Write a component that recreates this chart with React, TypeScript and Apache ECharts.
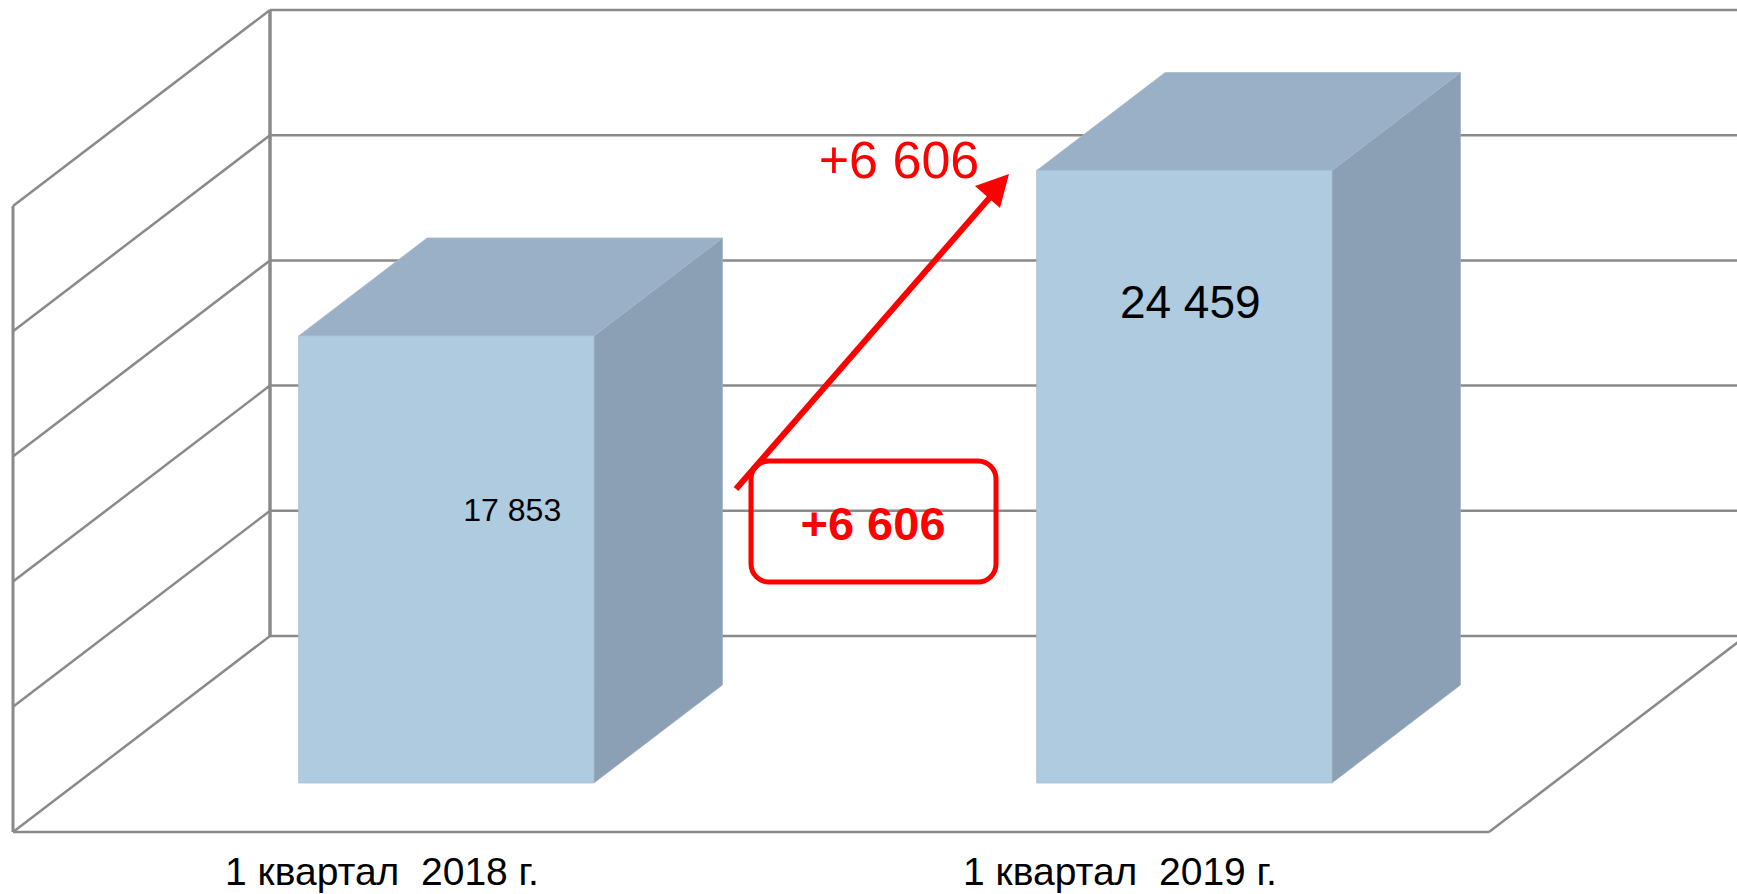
import React, { useEffect, useRef } from "react";
import * as echarts from "echarts";

// ---- data ----
const categories = ["1 квартал  2018 г.", "1 квартал  2019 г."];
const values = [17853, 24459];
const yTicks = [0, 5000, 10000, 15000, 20000, 25000];
const Y_MIN = 0;
const Y_MAX = 25000;
const Y_INTERVAL = 5000;

const fmt = (n: number) => String(Math.abs(n)).replace(/\B(?=(\d{3})+(?!\d))/g, " ");
const diff = values[1] - values[0];
const diffLabel = (diff >= 0 ? "+" : "-") + fmt(diff);

// ---- 3D projection / styling ----
const DEPTH = [257, -196]; // full floor depth vector (front -> back wall)
const BAR_FRONT = 0.25;
const BAR_BACK = 0.75;
const BAR_WIDTH_RATIO = 0.4;
const GRID_COLOR = "#8a8a8a";
const FONT = "'Liberation Sans', Arial, sans-serif";
const FRONT_COLOR = "#afcbe0";
const TOP_COLOR = "#9ab0c6";
const SIDE_COLOR = "#8ba0b4";
// label placement relative to bar front face: x offset from centre, y fraction from top, font size
const LABEL_LAYOUT = [
  { dx: 66, fy: 0.39, size: 32 },
  { dx: 6, fy: 0.215, size: 46 },
];

export default function App() {
  const ref = useRef<HTMLDivElement>(null);
  useEffect(() => {
    if (!ref.current) return;
    const chart = echarts.init(ref.current, null, { renderer: "svg" });
    const option: any = {
      animation: false,
      backgroundColor: "#ffffff",
      grid: { left: 13, top: 206, width: 1476, height: 626, containLabel: false },
      xAxis: {
        type: "category",
        data: categories,
        axisLine: { show: false },
        axisTick: { show: false },
        splitLine: { show: false },
        axisLabel: { fontSize: 39, color: "#000", fontFamily: FONT, margin: 20 },
      },
      yAxis: {
        type: "value",
        min: Y_MIN,
        max: Y_MAX,
        interval: Y_INTERVAL,
        show: false,
        splitLine: { show: false },
      },
      series: [
        {
          type: "custom",
          name: "walls",
          z: 1,
          silent: true,
          data: yTicks.map((v) => [0, v]),
          renderItem: (params: any, api: any) => {
            const v = api.value(1);
            const cs = params.coordSys;
            const y = api.coord([0, v])[1];
            const x0 = cs.x;
            const x1 = cs.x + cs.width;
            const [dx, dy] = DEPTH;
            const st = { stroke: GRID_COLOR, lineWidth: 2.5 };
            const children: any[] = [
              { type: "line", shape: { x1: x0, y1: y, x2: x0 + dx, y2: y + dy }, style: st },
              { type: "line", shape: { x1: x0 + dx, y1: y + dy, x2: x1 + dx, y2: y + dy }, style: st },
            ];
            if (v === Y_MIN) {
              children.push(
                { type: "line", shape: { x1: x0, y1: y, x2: x1, y2: y }, style: { stroke: GRID_COLOR, lineWidth: 2.5 } },
                { type: "line", shape: { x1: x1, y1: y, x2: x1 + dx, y2: y + dy }, style: st },
                { type: "line", shape: { x1: x0, y1: y, x2: x0, y2: cs.y }, style: { stroke: GRID_COLOR, lineWidth: 3 } },
                { type: "line", shape: { x1: x0 + dx, y1: y + dy, x2: x0 + dx, y2: cs.y + dy }, style: { stroke: GRID_COLOR, lineWidth: 3.5 } }
              );
            }
            return { type: "group", children };
          },
        },
        {
          type: "custom",
          name: "bars",
          z: 2,
          data: values.map((v, i) => [i, v]),
          renderItem: (params: any, api: any) => {
            const idx = api.value(0);
            const val = api.value(1);
            const base = api.coord([idx, 0]);
            const top = api.coord([idx, val]);
            const bw = api.size([1, 0])[0] * BAR_WIDTH_RATIO;
            const fx = DEPTH[0] * BAR_FRONT;
            const fy = DEPTH[1] * BAR_FRONT;
            const ddx = DEPTH[0] * (BAR_BACK - BAR_FRONT);
            const ddy = DEPTH[1] * (BAR_BACK - BAR_FRONT);
            const l = base[0] - bw / 2 + fx;
            const r = base[0] + bw / 2 + fx;
            const yb = base[1] + fy;
            const yt = top[1] + fy;
            const lay = LABEL_LAYOUT[idx];
            return {
              type: "group",
              children: [
                {
                  type: "polygon",
                  shape: { points: [[r, yt], [r + ddx, yt + ddy], [r + ddx, yb + ddy], [r, yb]] },
                  style: { fill: SIDE_COLOR, stroke: "#9aabbb", lineWidth: 0.8 },
                },
                {
                  type: "polygon",
                  shape: { points: [[l, yt], [l + ddx, yt + ddy], [r + ddx, yt + ddy], [r, yt]] },
                  style: { fill: TOP_COLOR, stroke: "#a7b9ca", lineWidth: 0.8 },
                },
                {
                  type: "rect",
                  shape: { x: l, y: yt, width: bw, height: yb - yt },
                  style: { fill: FRONT_COLOR, stroke: "#a9bfd2", lineWidth: 0.8 },
                },
                {
                  type: "text",
                  style: {
                    text: fmt(val),
                    x: (l + r) / 2 + lay.dx,
                    y: yt + (yb - yt) * lay.fy,
                    fill: "#000",
                    fontSize: lay.size,
                    fontFamily: FONT,
                    align: "center",
                    verticalAlign: "middle",
                  },
                },
              ],
            };
          },
        },
      ],
      graphic: [
        {
          type: "rect",
          z: 10,
          shape: { x: 751, y: 461, width: 245, height: 121, r: 18 },
          style: { fill: "none", stroke: "#ff0000", lineWidth: 5 },
        },
        {
          type: "text",
          z: 10,
          style: {
            text: diffLabel,
            x: 873,
            y: 523,
            fill: "#ff0000",
            fontSize: 47,
            fontWeight: "bold",
            fontFamily: FONT,
            align: "center",
            verticalAlign: "middle",
          },
        },
        {
          type: "line",
          z: 10,
          shape: { x1: 736, y1: 489, x2: 992, y2: 195 },
          style: { stroke: "#ff0000", lineWidth: 6 },
        },
        {
          type: "polygon",
          z: 10,
          shape: { points: [[1009, 174], [975, 186], [1000, 208]] },
          style: { fill: "#ff0000" },
        },
        {
          type: "text",
          z: 10,
          style: {
            text: diffLabel,
            x: 899,
            y: 160,
            fill: "#ff0000",
            fontSize: 52,
            fontFamily: FONT,
            align: "center",
            verticalAlign: "middle",
          },
        },
      ],
    };
    chart.setOption(option);
    return () => chart.dispose();
  }, []);
  return (
    <div
      ref={ref}
      style={{ position: "absolute", left: 0, top: 0, width: 1737, height: 894, background: "#fff" }}
    />
  );
}
